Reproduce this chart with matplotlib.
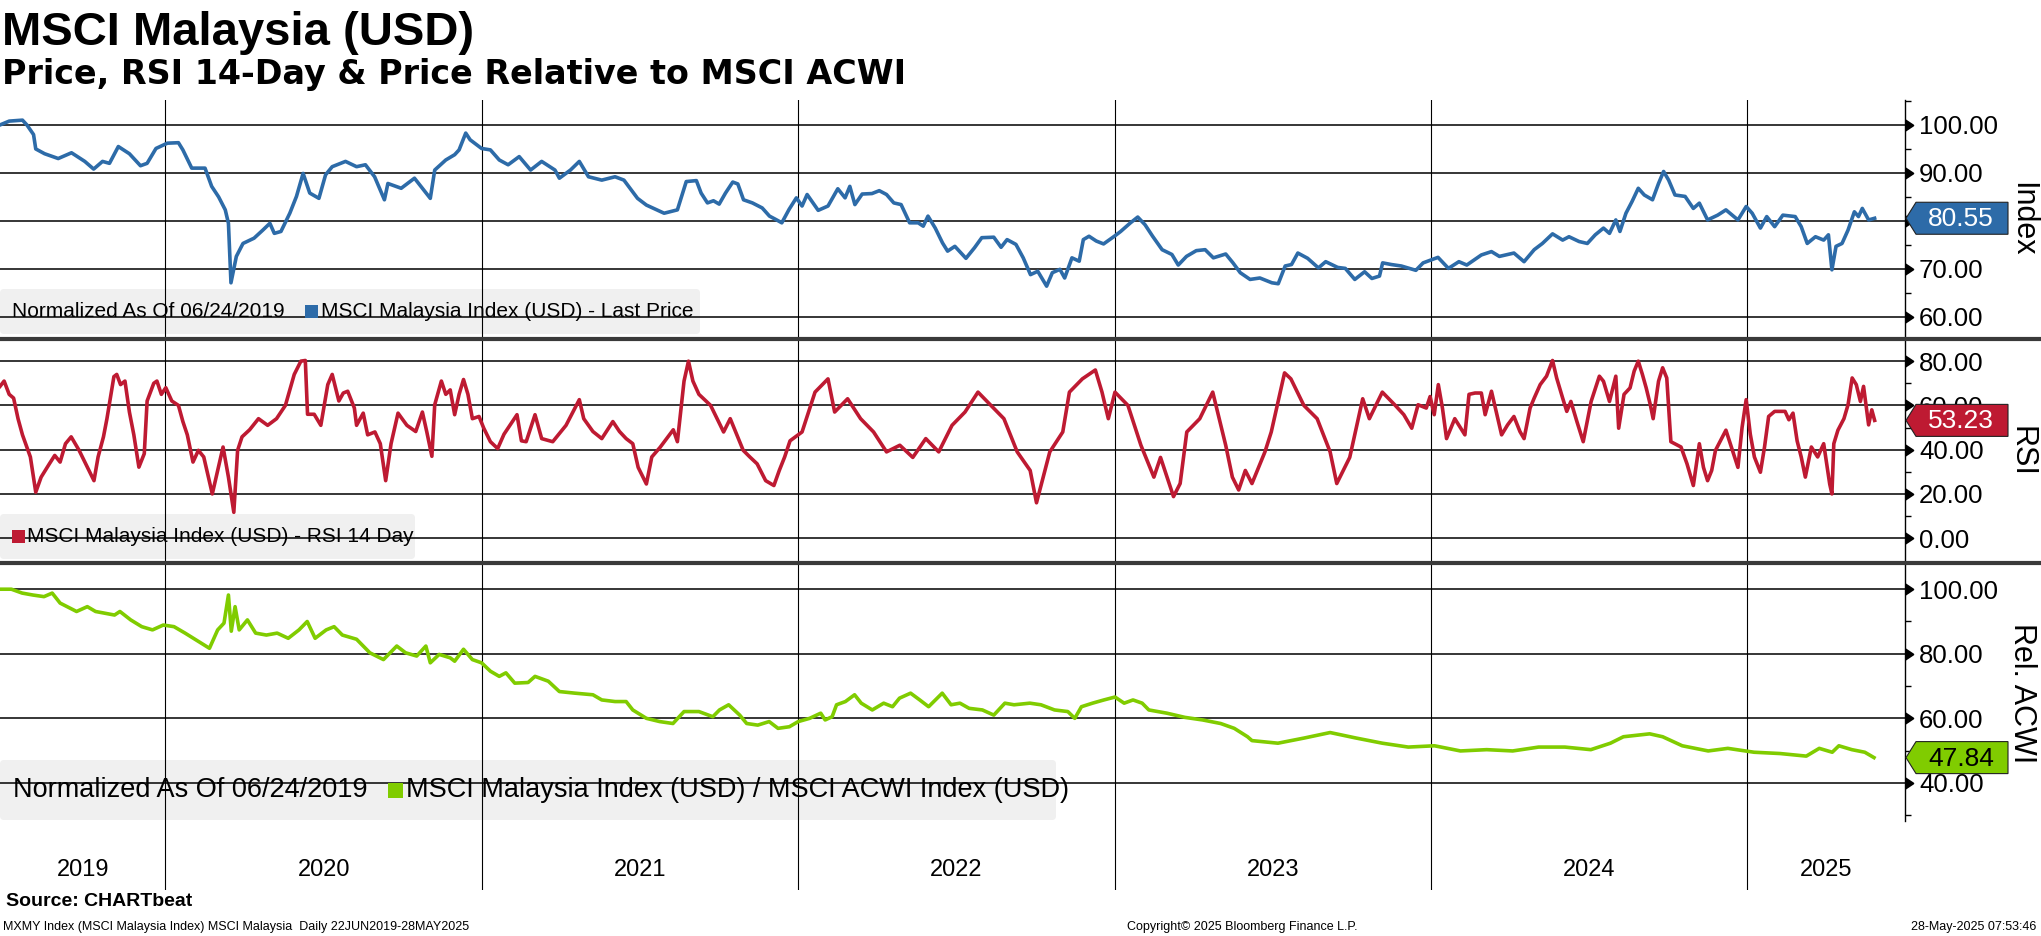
import matplotlib
matplotlib.use("Agg")
import matplotlib.pyplot as plt
from matplotlib import markers, patches, lines, transforms
from matplotlib.ticker import FuncFormatter

# ---- data (x = decimal year) ----
price_t = [2019.477, 2019.506, 2019.548, 2019.562, 2019.583, 2019.590, 2019.618, 2019.661, 2019.703, 2019.745,
           2019.773, 2019.801, 2019.823, 2019.851, 2019.886, 2019.921, 2019.942, 2019.970, 2020.006, 2020.041,
           2020.055, 2020.083, 2020.125, 2020.146, 2020.168, 2020.189, 2020.199, 2020.207, 2020.224, 2020.245,
           2020.280, 2020.308, 2020.330, 2020.344, 2020.365, 2020.393, 2020.414, 2020.435, 2020.456, 2020.485,
           2020.506, 2020.527, 2020.569, 2020.604, 2020.632, 2020.661, 2020.692, 2020.703, 2020.745, 2020.787,
           2020.837, 2020.851, 2020.886, 2020.914, 2020.928, 2020.949, 2020.963, 2020.999, 2021.027, 2021.055,
           2021.083, 2021.118, 2021.154, 2021.189, 2021.231, 2021.245, 2021.280, 2021.308, 2021.337, 2021.379,
           2021.421, 2021.449, 2021.492, 2021.520, 2021.576, 2021.618, 2021.646, 2021.678, 2021.693, 2021.713,
           2021.732, 2021.750, 2021.770, 2021.793, 2021.809, 2021.827, 2021.855, 2021.886, 2021.909, 2021.929,
           2021.948, 2021.971, 2021.994, 2022.012, 2022.028, 2022.063, 2022.094, 2022.125, 2022.148, 2022.163,
           2022.179, 2022.202, 2022.233, 2022.256, 2022.279, 2022.302, 2022.325, 2022.352, 2022.379, 2022.395,
           2022.410, 2022.433, 2022.456, 2022.472, 2022.495, 2022.530, 2022.557, 2022.580, 2022.618, 2022.641,
           2022.660, 2022.688, 2022.711, 2022.734, 2022.757, 2022.785, 2022.803, 2022.827, 2022.842, 2022.865,
           2022.888, 2022.901, 2022.919, 2022.942, 2022.965, 2022.999, 2023.019, 2023.050, 2023.073, 2023.096,
           2023.120, 2023.150, 2023.181, 2023.201, 2023.227, 2023.258, 2023.286, 2023.312, 2023.351, 2023.374,
           2023.397, 2023.428, 2023.459, 2023.497, 2023.517, 2023.539, 2023.559, 2023.579, 2023.610, 2023.644,
           2023.667, 2023.705, 2023.729, 2023.759, 2023.790, 2023.813, 2023.837, 2023.847, 2023.875, 2023.906,
           2023.952, 2023.975, 2024.022, 2024.055, 2024.088, 2024.113, 2024.159, 2024.191, 2024.216, 2024.262,
           2024.294, 2024.326, 2024.352, 2024.384, 2024.416, 2024.436, 2024.468, 2024.494, 2024.519, 2024.545,
           2024.564, 2024.584, 2024.597, 2024.616, 2024.635, 2024.655, 2024.674, 2024.700, 2024.719, 2024.735,
           2024.751, 2024.771, 2024.803, 2024.829, 2024.848, 2024.874, 2024.906, 2024.932, 2024.970, 2024.996,
           2025.015, 2025.041, 2025.061, 2025.086, 2025.112, 2025.151, 2025.170, 2025.189, 2025.215, 2025.241,
           2025.256, 2025.267, 2025.280, 2025.299, 2025.318, 2025.338, 2025.351, 2025.363, 2025.383, 2025.402]
price_v = [100.0, 100.8, 101.0, 100.0, 98.0, 95.0, 94.0, 93.0, 94.2, 92.4,
           90.8, 92.4, 92.0, 95.5, 94.0, 91.5, 92.0, 95.1, 96.2, 96.3,
           94.8, 91.0, 91.0, 87.2, 85.0, 82.3, 79.5, 67.1, 72.6, 75.3,
           76.4, 78.1, 79.5, 77.4, 77.8, 81.6, 85.1, 89.9, 85.8, 84.7,
           89.6, 91.3, 92.4, 91.3, 91.7, 89.2, 84.4, 87.8, 86.8, 88.9,
           84.7, 90.6, 92.7, 93.8, 94.8, 98.3, 96.9, 95.1, 94.8, 92.7,
           91.7, 93.4, 90.6, 92.4, 90.6, 88.9, 90.6, 92.4, 89.2, 88.5,
           89.2, 88.5, 84.7, 83.3, 81.6, 82.3, 88.2, 88.4, 85.8, 83.75,
           84.2, 83.5, 85.8, 88.1, 87.7, 84.4, 83.75, 82.7, 81.0, 80.3,
           79.6, 82.4, 84.8, 83.1, 85.5, 82.2, 83.1, 86.7, 84.8, 87.2,
           83.4, 85.6, 85.7, 86.3, 85.5, 83.75, 83.4, 79.6, 79.6, 78.9,
           81.0, 78.5, 75.4, 73.7, 74.7, 72.2, 74.4, 76.5, 76.6, 74.5,
           76.1, 75.1, 72.3, 68.8, 69.5, 66.4, 69.2, 69.9, 68.1, 72.3,
           71.6, 76.1, 76.8, 75.8, 75.2, 76.8, 77.8, 79.6, 80.8, 79.2,
           76.8, 74.0, 73.0, 70.8, 72.6, 73.8, 74.0, 72.3, 73.1, 71.25,
           69.2, 67.8, 68.1, 67.1, 66.9, 70.6, 70.9, 73.3, 72.2, 70.2,
           71.5, 70.3, 70.1, 67.8, 69.4, 68.0, 68.5, 71.25, 70.9, 70.6,
           69.7, 71.25, 72.4, 70.1, 71.5, 70.8, 72.9, 73.6, 72.6, 73.3,
           71.5, 74.0, 75.3, 77.3, 76.0, 76.7, 75.7, 75.3, 77.1, 78.5,
           77.4, 80.2, 77.8, 81.6, 84.0, 86.8, 85.4, 84.4, 87.8, 90.3,
           88.5, 85.4, 85.1, 82.6, 83.7, 80.2, 81.2, 82.3, 80.2, 83.0,
           81.6, 78.5, 80.9, 78.8, 81.2, 80.9, 78.8, 75.3, 76.7, 76.0,
           77.1, 69.8, 74.7, 75.3, 78.1, 81.9, 80.9, 82.6, 80.2, 80.55]

rsi_t = [2019.477, 2019.490, 2019.506, 2019.520, 2019.534, 2019.548, 2019.573, 2019.590, 2019.607, 2019.633,
         2019.650, 2019.667, 2019.684, 2019.702, 2019.727, 2019.753, 2019.774, 2019.787, 2019.804, 2019.815,
         2019.837, 2019.846, 2019.858, 2019.872, 2019.886, 2019.900, 2019.916, 2019.933, 2019.942, 2019.963,
         2019.973, 2019.987, 2020.001, 2020.020, 2020.041, 2020.055, 2020.069, 2020.087, 2020.104, 2020.121,
         2020.148, 2020.165, 2020.182, 2020.199, 2020.216, 2020.228, 2020.242, 2020.266, 2020.294, 2020.323,
         2020.351, 2020.379, 2020.407, 2020.428, 2020.442, 2020.449, 2020.470, 2020.491, 2020.513, 2020.527,
         2020.548, 2020.562, 2020.576, 2020.597, 2020.604, 2020.625, 2020.639, 2020.662, 2020.679, 2020.696,
         2020.713, 2020.735, 2020.763, 2020.791, 2020.812, 2020.826, 2020.842, 2020.851, 2020.872, 2020.886,
         2020.900, 2020.914, 2020.928, 2020.942, 2020.956, 2020.970, 2020.991, 2021.006, 2021.027, 2021.050,
         2021.070, 2021.111, 2021.125, 2021.140, 2021.168, 2021.189, 2021.224, 2021.266, 2021.308, 2021.322,
         2021.351, 2021.379, 2021.414, 2021.435, 2021.456, 2021.477, 2021.494, 2021.520, 2021.537, 2021.563,
         2021.605, 2021.618, 2021.639, 2021.653, 2021.667, 2021.686, 2021.723, 2021.764, 2021.785, 2021.826,
         2021.847, 2021.870, 2021.897, 2021.923, 2021.940, 2021.957, 2021.974, 2022.012, 2022.053, 2022.094,
         2022.115, 2022.156, 2022.197, 2022.238, 2022.279, 2022.321, 2022.362, 2022.403, 2022.444, 2022.486,
         2022.527, 2022.568, 2022.609, 2022.650, 2022.692, 2022.733, 2022.753, 2022.774, 2022.795, 2022.836,
         2022.857, 2022.898, 2022.939, 2022.960, 2022.980, 2023.001, 2023.042, 2023.083, 2023.124, 2023.145,
         2023.186, 2023.207, 2023.228, 2023.269, 2023.310, 2023.351, 2023.372, 2023.392, 2023.413, 2023.434,
         2023.475, 2023.495, 2023.537, 2023.557, 2023.598, 2023.640, 2023.681, 2023.702, 2023.743, 2023.784,
         2023.805, 2023.846, 2023.887, 2023.914, 2023.939, 2023.959, 2023.985, 2023.997, 2024.010, 2024.023,
         2024.036, 2024.049, 2024.075, 2024.107, 2024.120, 2024.139, 2024.159, 2024.171, 2024.191, 2024.223,
         2024.242, 2024.262, 2024.281, 2024.294, 2024.313, 2024.326, 2024.345, 2024.365, 2024.384, 2024.397,
         2024.416, 2024.429, 2024.442, 2024.461, 2024.481, 2024.506, 2024.532, 2024.545, 2024.564, 2024.584,
         2024.593, 2024.610, 2024.629, 2024.642, 2024.655, 2024.668, 2024.680, 2024.693, 2024.702, 2024.719,
         2024.732, 2024.745, 2024.758, 2024.790, 2024.809, 2024.829, 2024.848, 2024.861, 2024.874, 2024.887,
         2024.899, 2024.932, 2024.970, 2024.983, 2024.996, 2025.009, 2025.022, 2025.041, 2025.054, 2025.067,
         2025.086, 2025.119, 2025.131, 2025.144, 2025.157, 2025.170, 2025.183, 2025.202, 2025.222, 2025.241,
         2025.260, 2025.267, 2025.273, 2025.286, 2025.305, 2025.318, 2025.331, 2025.344, 2025.357, 2025.367,
         2025.383, 2025.393, 2025.402]
rsi_v = [68.6, 71.0, 65.0, 63.3, 54.0, 46.7, 36.7, 20.8, 27.6, 33.6,
         37.4, 34.4, 42.7, 45.8, 39.7, 32.1, 26.0, 36.7, 45.8, 54.0,
         73.0, 74.0, 69.4, 71.0, 57.0, 46.7, 32.1, 38.2, 62.0, 70.0,
         71.0, 65.0, 68.0, 62.0, 60.0, 52.7, 46.7, 34.4, 39.7, 36.7,
         20.0, 30.6, 41.2, 27.6, 11.7, 39.7, 45.8, 49.0, 54.0, 51.0,
         54.0, 60.0, 74.0, 80.0, 80.3, 56.0, 56.0, 51.0, 69.4, 74.0,
         62.0, 65.6, 66.4, 58.8, 51.0, 56.5, 46.7, 48.0, 42.7, 26.0,
         42.7, 56.5, 51.0, 48.2, 57.0, 48.0, 37.0, 60.3, 71.0, 65.0,
         67.0, 55.8, 65.0, 71.7, 65.0, 54.0, 55.0, 49.7, 43.6, 40.5,
         47.0, 55.8, 44.0, 43.6, 55.8, 45.0, 43.6, 51.0, 62.6, 54.0,
         48.2, 45.0, 52.7, 48.2, 45.0, 42.7, 32.0, 24.5, 36.7, 41.0,
         49.0, 43.6, 71.0, 80.0, 71.0, 65.0, 60.0, 48.0, 54.0, 39.7,
         36.7, 33.6, 26.0, 23.8, 30.6, 36.7, 44.0, 48.0, 66.0, 72.0,
         57.0, 63.0, 54.0, 48.0, 39.0, 42.0, 36.5, 45.0, 39.0, 51.0,
         57.0, 66.0, 60.0, 54.0, 39.0, 30.6, 16.0, 27.6, 39.0, 48.0,
         66.0, 72.0, 76.0, 66.0, 54.0, 66.0, 60.0, 42.0, 27.6, 36.5,
         18.8, 24.7, 48.0, 54.0, 66.0, 42.0, 27.6, 21.8, 30.6, 24.7,
         39.0, 48.0, 74.7, 72.0, 60.0, 54.0, 39.0, 24.7, 36.5, 63.0,
         54.0, 66.0, 60.0, 55.8, 49.7, 60.3, 58.8, 64.0, 55.8, 69.4,
         58.8, 45.0, 54.0, 46.7, 65.0, 65.6, 65.6, 55.8, 66.4, 46.7,
         51.2, 55.0, 48.2, 45.0, 58.8, 63.3, 69.4, 73.2, 80.3, 72.4,
         63.3, 57.3, 61.8, 52.7, 43.6, 61.8, 73.2, 70.9, 61.8, 73.2,
         49.7, 65.0, 67.9, 75.5, 80.0, 74.0, 67.9, 60.3, 54.0, 70.9,
         77.0, 72.4, 43.6, 41.2, 33.6, 23.8, 42.7, 32.0, 26.0, 30.6,
         39.7, 48.8, 32.0, 50.0, 62.6, 47.0, 36.7, 29.8, 41.2, 55.0,
         57.3, 57.3, 53.5, 56.5, 44.0, 36.7, 27.6, 41.2, 36.7, 42.7,
         24.5, 20.0, 42.7, 48.8, 54.0, 60.3, 72.4, 69.4, 61.8, 68.6,
         51.2, 58.0, 53.23]

rel_t = [2019.479, 2019.513, 2019.547, 2019.581, 2019.616, 2019.642, 2019.667, 2019.719, 2019.753, 2019.779,
         2019.839, 2019.856, 2019.890, 2019.925, 2019.959, 2019.993, 2020.027, 2020.062, 2020.113, 2020.139,
         2020.165, 2020.185, 2020.199, 2020.208, 2020.220, 2020.233, 2020.259, 2020.285, 2020.319, 2020.353,
         2020.388, 2020.422, 2020.448, 2020.473, 2020.508, 2020.533, 2020.559, 2020.604, 2020.646, 2020.689,
         2020.731, 2020.759, 2020.794, 2020.823, 2020.837, 2020.865, 2020.900, 2020.914, 2020.942, 2020.970,
         2020.999, 2021.027, 2021.055, 2021.076, 2021.104, 2021.146, 2021.168, 2021.210, 2021.245, 2021.294,
         2021.351, 2021.379, 2021.421, 2021.456, 2021.477, 2021.520, 2021.562, 2021.604, 2021.639, 2021.686,
         2021.730, 2021.751, 2021.780, 2021.815, 2021.837, 2021.872, 2021.908, 2021.936, 2021.972, 2022.000,
         2022.036, 2022.071, 2022.085, 2022.107, 2022.121, 2022.149, 2022.178, 2022.199, 2022.234, 2022.270,
         2022.298, 2022.320, 2022.355, 2022.384, 2022.412, 2022.455, 2022.483, 2022.511, 2022.540, 2022.582,
         2022.618, 2022.653, 2022.682, 2022.732, 2022.767, 2022.810, 2022.852, 2022.874, 2022.895, 2022.930,
         2022.966, 2023.001, 2023.030, 2023.058, 2023.087, 2023.108, 2023.165, 2023.222, 2023.278, 2023.335,
         2023.378, 2023.420, 2023.434, 2023.516, 2023.599, 2023.681, 2023.763, 2023.846, 2023.928, 2024.011,
         2024.093, 2024.176, 2024.258, 2024.340, 2024.423, 2024.505, 2024.567, 2024.608, 2024.691, 2024.732,
         2024.794, 2024.876, 2024.938, 2025.021, 2025.103, 2025.186, 2025.227, 2025.268, 2025.289, 2025.330,
         2025.371, 2025.400]
rel_v = [100.0, 100.0, 98.8, 98.2, 97.7, 98.8, 95.7, 93.1, 94.6, 93.1,
         92.0, 93.1, 90.5, 88.4, 87.4, 88.9, 88.4, 86.4, 83.3, 81.7,
         87.4, 89.5, 98.2, 87.0, 94.6, 87.4, 90.5, 86.4, 85.8, 86.4,
         84.8, 87.4, 90.0, 84.8, 87.4, 88.4, 85.8, 84.5, 80.3, 78.2,
         82.4, 80.3, 79.3, 82.4, 77.2, 79.8, 78.75, 77.7, 81.4, 78.2,
         77.2, 74.6, 73.0, 74.1, 70.9, 71.1, 73.0, 71.5, 68.3, 67.8,
         67.3, 65.7, 65.2, 65.2, 62.6, 60.0, 59.0, 58.4, 62.1, 62.1,
         60.5, 62.6, 64.2, 61.0, 58.4, 57.9, 59.0, 56.9, 57.4, 59.0,
         60.0, 61.6, 59.5, 60.5, 64.2, 65.2, 67.3, 64.7, 62.6, 64.7,
         63.6, 66.25, 67.8, 65.7, 63.6, 67.8, 64.2, 64.7, 63.1, 62.6,
         61.0, 64.7, 64.2, 64.7, 64.2, 62.6, 62.1, 60.0, 63.6, 64.7,
         65.7, 66.6, 64.7, 65.7, 64.7, 62.6, 61.6, 60.3, 59.5, 58.4,
         56.9, 54.3, 53.1, 52.3, 53.9, 55.6, 53.9, 52.3, 51.1, 51.5,
         49.9, 50.3, 49.9, 51.1, 51.1, 50.3, 52.3, 54.3, 55.2, 54.3,
         51.5, 49.9, 50.7, 49.5, 49.1, 48.3, 50.7, 49.5, 51.5, 50.3,
         49.5, 47.84]

years = [2019, 2020, 2021, 2022, 2023, 2024, 2025]
price_ticks = [60, 70, 80, 90, 100]
rsi_ticks = [0, 20, 40, 60, 80]
rel_ticks = [40, 60, 80, 100]

BLUE = '#2d6ba8'
RED = '#be1a32'
GREEN = '#80cc00'

# ---- figure, laid out in pixels ----
W, H = 2041, 936
plt.rcParams['font.family'] = ['Liberation Sans', 'DejaVu Sans']
fig = plt.figure(figsize=(W / 100, H / 100), dpi=100)
PX = transforms.IdentityTransform()
XL = (2019.477, 2025.498)
SPINE_X = 1905


def rect(l, t, r, b):
    return [l / W, 1 - b / H, (r - l) / W, (b - t) / H]


def panel(top, bottom, ylim, major, minor, hidden=None):
    ax = fig.add_axes(rect(0, top, SPINE_X, bottom))
    ax.set_xlim(*XL)
    ax.set_ylim(*ylim)
    for s in ['left', 'top', 'bottom']:
        ax.spines[s].set_visible(False)
    ax.spines['right'].set_linewidth(1.0)
    ax.yaxis.tick_right()
    ax.set_yticks(major)
    ax.set_yticks(minor, minor=True)
    # the label sitting under the last-value tag is not visible on the original
    ax.yaxis.set_major_formatter(FuncFormatter(lambda v, p: '' if v == hidden else f'{v:.2f}'))
    ax.tick_params(axis='y', which='major', length=0, pad=10, labelsize=18.5)
    ax.tick_params(axis='y', which='minor', length=4, width=1, direction='out')
    ax.tick_params(axis='x', bottom=False, labelbottom=False)
    for v in major:
        ax.axhline(v, color='black', lw=1.1, zorder=1)
    for yr in years[1:]:
        ax.axvline(yr, color='black', lw=0.8, zorder=1)
    ax.scatter([1.0] * len(major), major, marker=markers.CARETRIGHTBASE, s=55,
               color='black', transform=ax.get_yaxis_transform(), clip_on=False, zorder=5)
    return ax


def value_tag(ax, val, face, tcolor):
    y = ax.transData.transform((XL[0], val))[1]
    x = SPINE_X + 1
    h = 16
    pts = [(x, y), (x + 10, y + h), (2008, y + h), (2008, y - h), (x + 10, y - h)]
    fig.add_artist(patches.Polygon(pts, closed=True, transform=PX, facecolor=face,
                                   edgecolor='#222222', lw=0.8, zorder=10))
    fig.text(1961, y - 1, f'{val:.2f}', transform=PX, ha='center', va='center',
             fontsize=19, color=tcolor, zorder=11)


def legend_box(ax, l, t, r, b, items, size):
    ax.add_patch(patches.FancyBboxPatch((l, H - b), r - l, b - t, boxstyle='round,pad=0,rounding_size=4',
                                        transform=PX, facecolor='#f0f0f0', edgecolor='none',
                                        zorder=0.5, clip_on=False))
    yc = H - (t + b) / 2
    for kind, x, val in items:
        if kind == 'text':
            ax.text(x, yc, val, transform=PX, ha='left', va='center', fontsize=size,
                    color='black', zorder=6)
        else:
            s = val[1]
            ax.add_patch(patches.Rectangle((x, yc - s / 2), s, s, transform=PX,
                                           facecolor=val[0], edgecolor='none', zorder=6, clip_on=False))


# price panel
ax1 = panel(100, 337, (55.8, 105.2), price_ticks, [65, 75, 85, 95, 105], hidden=80)
ax1.plot(price_t, price_v, color=BLUE, lw=2.6, zorder=3)
legend_box(ax1, 0, 289, 700, 334,
           [('text', 12, 'Normalized As Of 06/24/2019'), ('sq', 305, (BLUE, 13)),
            ('text', 321, 'MSCI Malaysia Index (USD) - Last Price')], 15)
value_tag(ax1, price_v[-1], BLUE, 'white')

# RSI panel
ax2 = panel(341, 561, (-10.3, 89.1), rsi_ticks, [10, 30, 50, 70])
ax2.plot(rsi_t, rsi_v, color=RED, lw=2.6, zorder=3)
legend_box(ax2, 0, 514, 415, 559,
           [('sq', 12, (RED, 13)), ('text', 27, 'MSCI Malaysia Index (USD) - RSI 14 Day')], 15)
value_tag(ax2, rsi_v[-1], RED, 'white')

# relative panel
ax3 = panel(565, 821, (28.2, 107.5), rel_ticks, [30, 50, 70, 90])
ax3.plot(rel_t, rel_v, color=GREEN, lw=2.6, zorder=3)
legend_box(ax3, 0, 760, 1056, 820,
           [('text', 13, 'Normalized As Of 06/24/2019'), ('sq', 388, (GREEN, 15)),
            ('text', 406, 'MSCI Malaysia Index (USD) / MSCI ACWI Index (USD)')], 19.5)
value_tag(ax3, rel_v[-1], GREEN, 'black')

# date strip
ax4 = fig.add_axes(rect(0, 821, SPINE_X, 890))
ax4.set_xlim(*XL)
ax4.set_ylim(0, 1)
ax4.axis('off')
for yr in years[1:]:
    ax4.axvline(yr, color='black', lw=0.8)
for yr in years:
    lo, hi = max(yr, XL[0]), min(yr + 1, XL[1])
    ax4.text((lo + hi) / 2, 0.29, str(yr), ha='center', va='center', fontsize=17)

# panel separators
for yy in (339, 563):
    fig.add_artist(lines.Line2D([0, W], [H - yy, H - yy], transform=PX, color='#3a3a3a', lw=3))

# right-hand axis names
for label, yy in (('Index', 219), ('RSI', 451), ('Rel. ACWI', 693)):
    fig.text(2022, H - yy, label, transform=PX, rotation=270, ha='center', va='center', fontsize=22)

# titles
fig.text(2, H - 45, 'MSCI Malaysia (USD)', transform=PX, fontsize=34, fontweight='bold',
         va='baseline', family=['Liberation Sans', 'DejaVu Sans'])
fig.text(2, H - 84, 'Price, RSI 14-Day & Price Relative to MSCI ACWI', transform=PX, fontsize=24,
         fontweight='bold', va='baseline', family=['DejaVu Sans'])

# footer
fig.text(6, H - 902, 'Source: CHARTbeat', transform=PX, fontsize=14, fontweight='bold', va='center')
fig.text(3, H - 927, 'MXMY Index (MSCI Malaysia Index) MSCI Malaysia  Daily 22JUN2019-28MAY2025',
         transform=PX, fontsize=9, va='center')
fig.text(1242, H - 927, 'Copyright\u00a9 2025 Bloomberg Finance L.P.', transform=PX, fontsize=9,
         ha='center', va='center')
fig.text(2036, H - 927, '28-May-2025 07:53:46', transform=PX, fontsize=9, ha='right', va='center')

fig.savefig('out.png', dpi=100, facecolor='white')
